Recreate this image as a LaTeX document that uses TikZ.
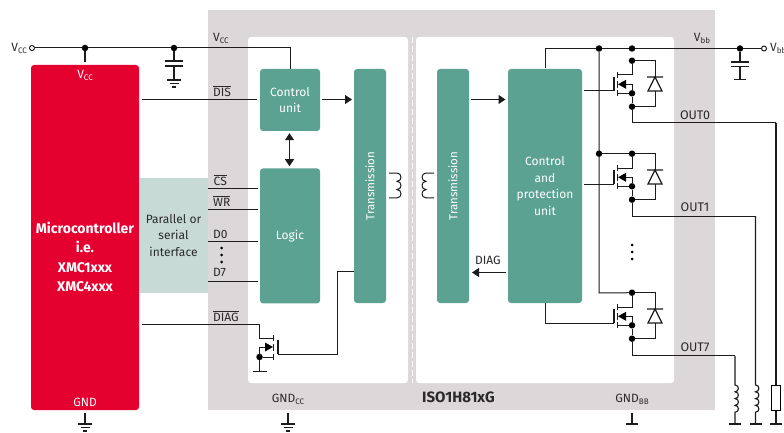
\documentclass[tikz,border=0pt]{standalone}
\usepackage{amsmath,amssymb}
\usepackage{xcolor}
\usepackage{fontspec}
\setmainfont{Fira Sans}
\usetikzlibrary{arrows.meta,positioning,calc}
\definecolor{pkggray}{HTML}{DCD7D8}
\definecolor{mcured}{HTML}{E4002F}
\definecolor{blockteal}{HTML}{5BA292}
\definecolor{ifacegreen}{HTML}{C7DAD5}
\definecolor{wire}{HTML}{1C1C1C}
\definecolor{labeltext}{HTML}{2A2A2A}
\newcommand{\ovl}[1]{$\overline{\mbox{#1}}$}
\newcommand{\subsc}[1]{\raisebox{-0.3ex}{\fontsize{8}{8}\selectfont #1}}

\begin{document}
\begin{tikzpicture}[
  x=1pt,y=-1pt,
  node distance=37pt and 34pt,
  font=\fontsize{12}{16.5}\selectfont,
  wr/.style={line width=1pt,draw=wire},
  arr/.style={wr,-{Triangle[length=7pt,width=9pt]}},
  dot/.style={circle,fill=black,inner sep=0pt,minimum size=6.5pt},
  open/.style={circle,draw=wire,line width=1pt,fill=white,inner sep=0pt,minimum size=5pt},
  area/.style={fill=white,rounded corners=3pt,inner sep=0pt},
  block/.style={fill=blockteal,rounded corners=3pt,inner sep=0pt,text=white,align=center},
  lbl/.style={text=labeltext,inner sep=0pt},
  siglbl/.style={lbl,anchor=west},
  rail/.style={wr,line width=1.1pt}
]
  \useasboundingbox (0,0) rectangle (784,433);

  % package and the two chips
  \node[fill=pkggray,inner sep=0pt,minimum width=507pt,minimum height=400pt] (pkg) at (461.5,210) {};
  \node[area,minimum width=160pt,minimum height=346pt] (chipl) at (328,210) {};
  \node[area,minimum width=258pt,minimum height=346pt] (chipr) at (545,210) {};
  \coordinate (iso0) at (412,37);
  \coordinate (iso1) at (412,383);
  \draw[white,line width=1pt,dash pattern=on 6pt off 3pt] (iso0) -- (iso1);

  \node[fill=mcured,rounded corners=3pt,inner sep=0pt,minimum width=108pt,minimum height=345pt] (mcu) at (85,237.5) {};
  \node[fill=ifacegreen,inner sep=0pt,minimum width=69pt,minimum height=115pt,align=center,text=labeltext] (iface) at (173.5,235.5) {Parallel or\\serial\\interface};
  \node[text=white,align=center,font=\bfseries\fontsize{14}{19.6}\selectfont] (mcutext) at (85,257) {Microcontroller\\i.e.\\XMC1xxx\\XMC4xxx};

  % blocks
  \node[block,minimum width=60pt,minimum height=62pt] (ctrl) at (290,100) {Control\\unit};
  \node[block,minimum width=60pt,minimum height=135pt,below=37pt of ctrl] (logic) {Logic};
  \node[block,minimum width=32pt,minimum height=234pt,font=\fontsize{11.5}{14}\selectfont] (txl) at (370,186) {\rotatebox{90}{Transmission}};
  \node[block,minimum width=32pt,minimum height=234pt,font=\fontsize{11.5}{14}\selectfont] (txr) at (453,186) {\rotatebox{90}{Transmission}};
  \node[block,minimum width=74pt,minimum height=234pt] (prot) at (545,186) {Control\\and\\protection\\unit};

  % supply left
  \node[open] (vccin) at (32,48) {};
  \node[dot] (vccm) at (85,48) {};
  \node[dot] (vccc) at (174,48) {};
  \coordinate (vccmb) at (85,62);
  \coordinate (capa) at (174,61);
  \coordinate (capb) at (174,66);
  \coordinate (capg) at (174,80);
  \draw[wr] (vccin) -- (vccm) -- (vccc) -| (ctrl.north);
  \draw[rail] (vccm) -- (vccmb);
  \draw[rail] (vccc) -- (capa);
  \draw[rail] (capb) -- (capg);
  \draw[line width=1.3pt,draw=wire] ($(capa)+(-9,0)$) -- ($(capa)+(9,0)$);
  \draw[line width=1.3pt,draw=wire] ($(capb)+(-9,0)$) -- ($(capb)+(9,0)$);
  \foreach \gx/\gy/\gname in {174/80/gc,85/424/gm,288/424/gl}{
    \coordinate (\gname) at (\gx,\gy);
    \draw[rail] ($(\gname)+(-7,0)$) -- ($(\gname)+(7,0)$);
    \draw[rail] ($(\gname)+(-4.5,3.5)$) -- ($(\gname)+(4.5,3.5)$);
    \draw[rail] ($(\gname)+(-2,7)$) -- ($(\gname)+(2,7)$);
  }
  \coordinate (gmt) at (85,413);
  \coordinate (glt) at (288,413);
  \draw[rail] (gmt) -- (gm);
  \draw[rail] (glt) -- (gl);

  % signals left
  \foreach \sx/\ex/\sy/\sname in {142/257/99.5/dis,208/258/188/cs,208/258/209/wr,208/258/241/dzero,208/258/281/dseven}{
    \coordinate (\sname a) at (\sx,\sy);
    \coordinate (\sname b) at (\ex,\sy);
    \draw[wr] (\sname a) -- (\sname b);
  }
  \foreach \dy in {248,255,262}{\fill[black] (221.5,\dy) circle (1.5pt);}
  \coordinate (ctrla) at (322,99.5);
  \coordinate (ctrlb) at (352,99.5);
  \draw[arr] (ctrla) -- (ctrlb);
  \draw[wr,{Triangle[length=7pt,width=9pt]}-{Triangle[length=7pt,width=9pt]}] ($(ctrl.south)+(-0.5,2)$) -- ($(logic.north)+(-0.5,-2)$);

  % diag switch
  \coordinate (diaga) at (142,324);
  \coordinate (diagd) at (273,338);
  \coordinate (diags) at (273,357);
  \node[dot] (diagn) at (259.5,357) {};
  \coordinate (diagg) at (278,354);
  \coordinate (diagf) at (354,271);
  \coordinate (diaggnd) at (259.5,371);
  \draw[wr] (diaga) -- (259,324) |- (diagd);
  \draw[wr] (diagn) -- (diags);
  \draw[wr] (diagn) -- (diaggnd);
  \draw[wr] (252.5,371) -- (266.5,371);
  \draw[wr] (diagn) |- (266,347);
  \fill[black] (273,347) -- (265,342.5) -- (265,351.5) -- cycle;
  \draw[line width=1.3pt,draw=wire] (273.5,335) -- (273.5,341) (273.5,344) -- (273.5,351) (273.5,354) -- (273.5,360);
  \draw[line width=1.3pt,draw=wire] (278,340) -- (278,354);
  \draw[wr] (diagg) -- (337,354) |- (diagf);

  % coils
  \coordinate (cla) at (389,173);
  \coordinate (cra) at (434,173);
  \draw[wr] (cla) -- ++(8,0) .. controls +(5.3,0) and +(5.3,0) .. ++(0,8.3) .. controls +(5.3,0) and +(5.3,0) .. ++(0,8.3) .. controls +(5.3,0) and +(5.3,0) .. ++(0,8.3) -- ++(-8,0);
  \draw[wr] (cra) -- ++(-8,0) .. controls +(-5.3,0) and +(-5.3,0) .. ++(0,8.3) .. controls +(-5.3,0) and +(-5.3,0) .. ++(0,8.3) .. controls +(-5.3,0) and +(-5.3,0) .. ++(0,8.3) -- ++(8,0);

  % arrows right
  \coordinate (txra) at (471,99.5);
  \coordinate (txrb) at (505.5,99.5);
  \coordinate (txrc) at (505.5,272.5);
  \coordinate (txrd) at (472,272.5);
  \draw[arr] (txra) -- (txrb);
  \draw[arr] (txrc) -- (txrd);

  % supply right
  \node[open] (vbbout) at (764,48.5) {};
  \node[dot] (vbbn) at (740,48.5) {};
  \node[dot] (busn) at (599,48.5) {};
  \node[dot] (topn) at (632,48.5) {};
  \coordinate (protv) at (545,68);
  \draw[wr] (protv) |- (busn) -- (topn) -- (vbbn) -- (vbbout);
  \coordinate (capra) at (740,62);
  \coordinate (caprb) at (740,66.5);
  \coordinate (caprg) at (740,79.5);
  \draw[rail] (vbbn) -- (capra);
  \draw[rail] (caprb) -- (caprg);
  \draw[line width=1.3pt,draw=wire] ($(capra)+(-9,0)$) -- ($(capra)+(9,0)$);
  \draw[line width=1.3pt,draw=wire] ($(caprb)+(-9,0)$) -- ($(caprb)+(9,0)$);
  \draw[rail] ($(caprg)+(-6,0)$) -- ($(caprg)+(6,0)$);

  % output switches
  \foreach \n/\dy/\ox in {0/0/776,1/93/755.5,7/232/735}{
    \begin{scope}[shift={(0,\dy)}]
      \node[dot] (dr\n) at (632,60.7) {};
      \node[dot] (so\n) at (632,93.3) {};
      \node[dot] (ou\n) at (632,106.7) {};
      \coordinate (ch\n) at (618,75);
      \coordinate (cs\n) at (618,93.3);
      \coordinate (cm\n) at (625,84.3);
      \coordinate (di\n) at (655,60.7);
      \coordinate (dj\n) at (655,106.7);
      \coordinate (gt\n) at (614,91);
      \coordinate (ol\n) at (632,123);
      \draw[wr] (dr\n) -- (632,75) -- (ch\n);
      \draw[wr] (cs\n) -- (so\n) -- (ou\n) -- (ol\n) -- (\ox,123);
      \draw[wr] (so\n) -- (632,84.3) -- (cm\n);
      \fill[black] (618,84.3) -- (626,79.8) -- (626,88.8) -- cycle;
      \draw[line width=1.3pt,draw=wire] (617.5,72) -- (617.5,78) (617.5,81) -- (617.5,88) (617.5,90) -- (617.5,96);
      \draw[line width=1.3pt,draw=wire] (614,77) -- (gt\n);
      \draw[wr] (dr\n) -- (di\n) -- (655,77) (655,91) -- (dj\n) -- (ou\n);
      \draw[line width=1.3pt,draw=wire,line join=miter] (647,77) -- (663,77) (655,77) -- (648,91) -- (662,91) -- cycle;
    \end{scope}
  }
  \foreach \dy in {245,252,259}{\fill[black] (632,\dy) circle (1.5pt);}

  % gates and bus
  \coordinate (gaa) at (584,91);
  \coordinate (gab) at (584,184);
  \coordinate (gac) at (545,303);
  \draw[wr] (gaa) -- (gt0);
  \draw[wr] (gab) -- (gt1);
  \draw[wr] (gac) |- (gt7);
  \draw[wr] (busn) -- (599,293) -- (dr7);
  \node[dot] (busa) at (599,153.7) {};
  \draw[wr] (busa) -- (dr1);

  % loads
  \coordinate (la) at (735,385);
  \coordinate (lb) at (755.5,385);
  \draw[rail] (735,356) -- (la) .. controls +(4.5,0) and +(4.5,0) .. ++(0,6.8) .. controls +(4.5,0) and +(4.5,0) .. ++(0,6.8) .. controls +(4.5,0) and +(4.5,0) .. ++(0,6.8) .. controls +(4.5,0) and +(4.5,0) .. ++(0,6.8) -- (735,424);
  \draw[rail] (755.5,216) -- (lb) .. controls +(4.5,0) and +(4.5,0) .. ++(0,6.8) .. controls +(4.5,0) and +(4.5,0) .. ++(0,6.8) .. controls +(4.5,0) and +(4.5,0) .. ++(0,6.8) .. controls +(4.5,0) and +(4.5,0) .. ++(0,6.8) -- (755.5,424);
  \node[draw=black,line width=1.3pt,fill=white,inner sep=0pt,minimum width=8.5pt,minimum height=25pt] (rload) at (776,397.7) {};
  \draw[rail] (776,123) -- (rload.north);
  \coordinate (rg) at (776,424);
  \draw[rail] (rload.south) -- (rg);
  \coordinate (bbt) at (632,413);
  \coordinate (bbg) at (632,424);
  \draw[rail] (bbt) -- (bbg);
  \foreach \bx in {632,735,755.5,776}{\draw[rail] (\bx-6,424) -- (\bx+6,424);}

  % labels
  \node[lbl,anchor=east] (lvcc) at (27,48) {V\subsc{CC}};
  \node[siglbl] (lvcci) at (213,38) {V\subsc{CC}};
  \node[lbl,text=white] (lvccm) at (85,75) {V\subsc{CC}};
  \node[siglbl] (ldis) at (213,91) {\ovl{DIS}};
  \node[siglbl] (lcs) at (213.5,180) {\ovl{CS}};
  \node[siglbl] (lwr) at (213,201) {\ovl{WR}};
  \node[siglbl] (ldz) at (213,234) {D0};
  \node[siglbl] (lds) at (213,272.5) {D7};
  \node[siglbl] (ldiag) at (213,316) {\ovl{DIAG}};
  \node[lbl,text=white] (lgm) at (85,402) {GND};
  \node[lbl] (lgc) at (288,399) {GND\subsc{CC}};
  \node[lbl] (lgb) at (632,399) {GND\subsc{BB}};
  \node[lbl,font=\bfseries\fontsize{15}{17}\selectfont] (lname) at (458.5,397) {ISO1H81xG};
  \node[lbl] (lrd) at (488,260) {DIAG};
  \node[lbl] (lvbb) at (702,38) {V\subsc{bb}};
  \node[lbl,anchor=west] (lvbo) at (770,48) {V\subsc{bb}};
  \node[lbl,font=\fontsize{12.5}{15}\selectfont] (lo0) at (695,115) {OUT0};
  \node[lbl,font=\fontsize{12.5}{15}\selectfont] (lo1) at (695,207) {OUT1};
  \node[lbl,font=\fontsize{12.5}{15}\selectfont] (lo7) at (695,347) {OUT7};
\end{tikzpicture}
\end{document}
